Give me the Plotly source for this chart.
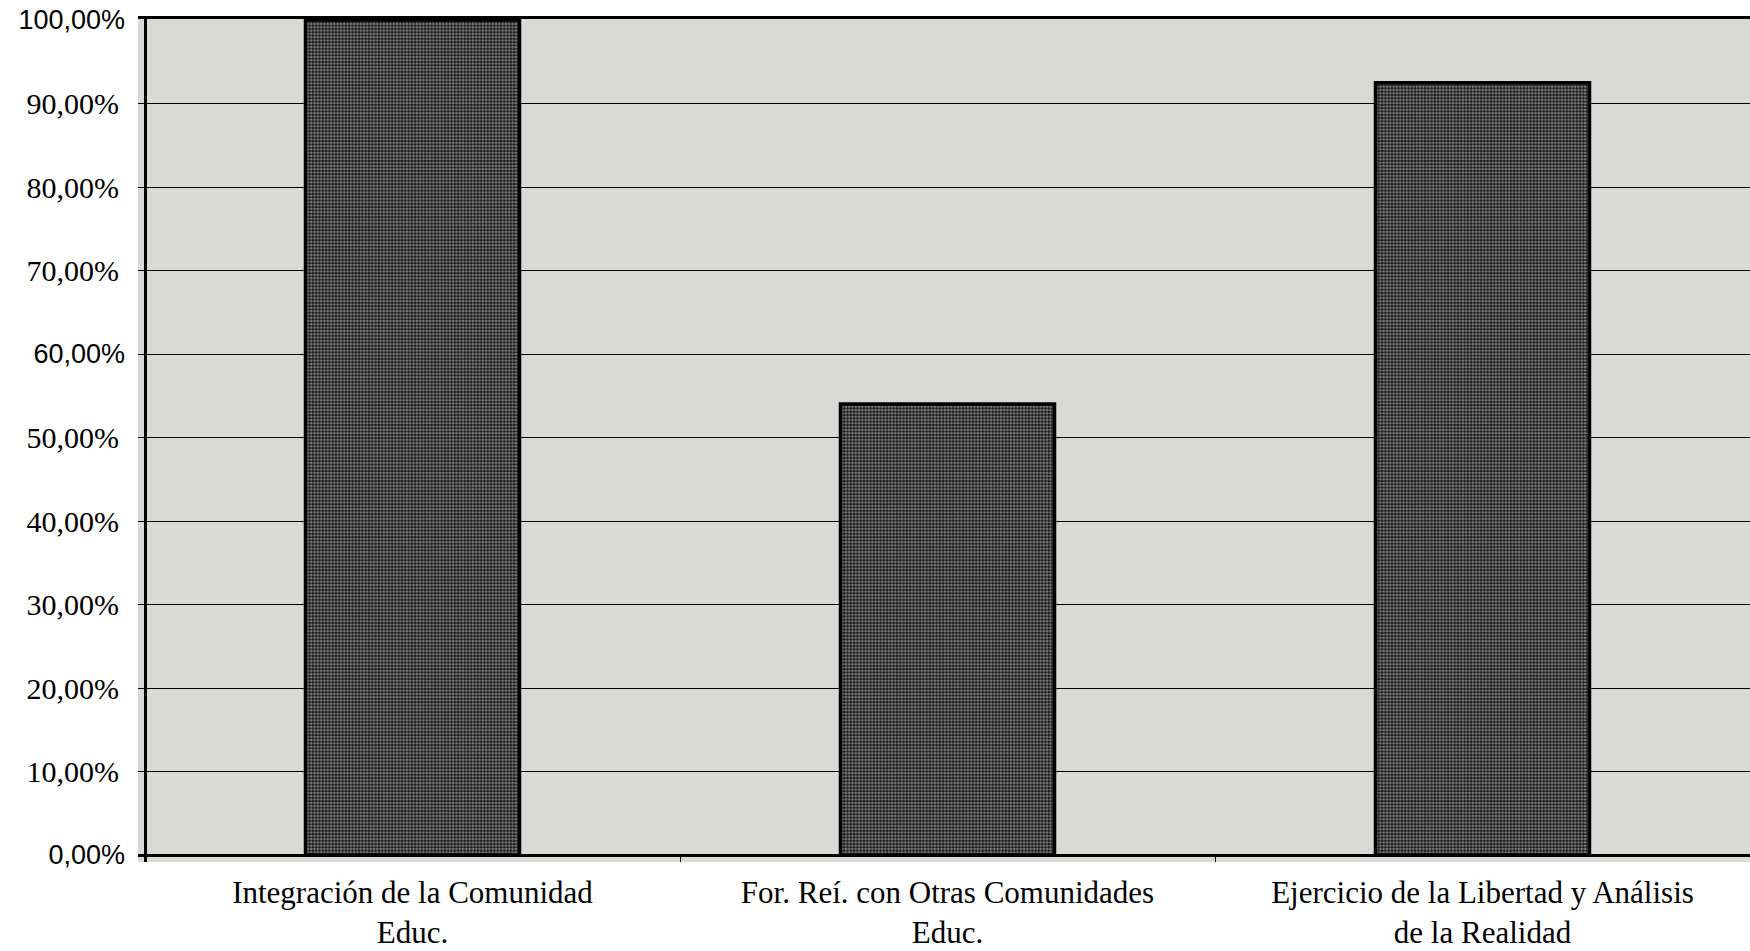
import plotly.graph_objects as go

categories = [
    "Integración de la Comunidad<br>Educ.",
    "For. Reí. con Otras Comunidades<br>Educ.",
    "Ejercicio de la Libertad y Análisis<br>de la Realidad",
]
values = [100.0, 54.0, 92.5]

# tick labels as printed; some were set in a sans face, the rest in a serif face
serif_tick_values = [10, 20, 30, 40, 50, 70, 80, 90]
serif_tick_labels = ["10,00%", "20,00%", "30,00%", "40,00%", "50,00%",
                     "70,00%", "80,00%", "90,00%"]
sans_tick_values = [0, 60, 100]
sans_tick_labels = ["0,00%", "60,00%", "100,00%"]
all_tick_values = [0, 10, 20, 30, 40, 50, 60, 70, 80, 90, 100]

SERIF = "Liberation Serif"
SANS = "Liberation Sans"

W, H = 1750, 951
ML, MT, MB = 138, 19, 89
plot_w = W - ML
px_per_unit = (855 - 20) / 100.0
y_range = [-(H - MB - 855) / px_per_unit, 100 + (20 - MT) / px_per_unit]
x_range = [-0.5 - 7 / 535, 2.5]

fig = go.Figure()
# gridlines axis helper (drawn first)
fig.add_trace(go.Bar(x=[categories[0]], y=[None], yaxis="y3",
                     showlegend=False, hoverinfo="skip"))
# empty helper trace on overlay axes (top border + sans tick labels)
fig.add_trace(go.Bar(x=[categories[0]], y=[None], xaxis="x2", yaxis="y2",
                     showlegend=False, hoverinfo="skip"))
fig.add_trace(go.Bar(
    x=categories,
    y=values,
    width=0.4,
    marker=dict(
        color="#2e2e2e",
        line=dict(color="black", width=3.5),
        pattern=dict(shape=".", fgcolor="#7c7c7c", bgcolor="#1c1c1c",
                     size=3.3, solidity=0.5, fillmode="replace"),
    ),
    hoverinfo="skip",
))

fig.update_layout(
    width=W, height=H,
    margin=dict(l=ML, r=0, t=MT, b=MB, pad=0),
    paper_bgcolor="white",
    plot_bgcolor="#d9d9d8",
    showlegend=False,
    font=dict(family=SERIF, color="black"),
    xaxis=dict(
        type="category",
        range=x_range,
        tickson="boundaries",
        ticks="inside", ticklen=7, tickcolor="black", tickwidth=1,
        showgrid=False,
        showline=False,
        tickfont=dict(family=SERIF, size=31, color="black"),
        ticklabelstandoff=9,
    ),
    xaxis2=dict(
        overlaying="x", side="top", type="category",
        range=x_range,
        showline=True, linecolor="black", linewidth=3,
        showticklabels=False, ticks="", showgrid=False,
    ),
    yaxis=dict(
        range=y_range,
        anchor="free", position=7 / plot_w,
        tickmode="array",
        tickvals=serif_tick_values,
        ticktext=serif_tick_labels,
        ticks="",
        showgrid=False,
        zeroline=True, zerolinecolor="black", zerolinewidth=3,
        showline=True, linecolor="black", linewidth=3,
        tickfont=dict(family=SERIF, size=30, color="black"),
        ticklabelstandoff=19,
    ),
    yaxis2=dict(
        overlaying="y",
        range=y_range,
        anchor="free", position=7 / plot_w, side="left",
        tickmode="array",
        tickvals=sans_tick_values,
        ticktext=sans_tick_labels,
        ticks="",
        showgrid=False, zeroline=False, showline=False,
        tickfont=dict(family=SANS, size=27, color="black"),
        ticklabelstandoff=20,
    ),
    yaxis3=dict(
        overlaying="y",
        range=y_range,
        tickmode="array", tickvals=all_tick_values,
        showticklabels=False, ticks="",
        showgrid=True, gridcolor="black", gridwidth=1,
        zeroline=False, showline=False,
    ),
)

fig.write_html("out.html",
               config={"displayModeBar": False},
               post_script="document.body.style.margin='0';document.body.style.overflow='hidden';")
